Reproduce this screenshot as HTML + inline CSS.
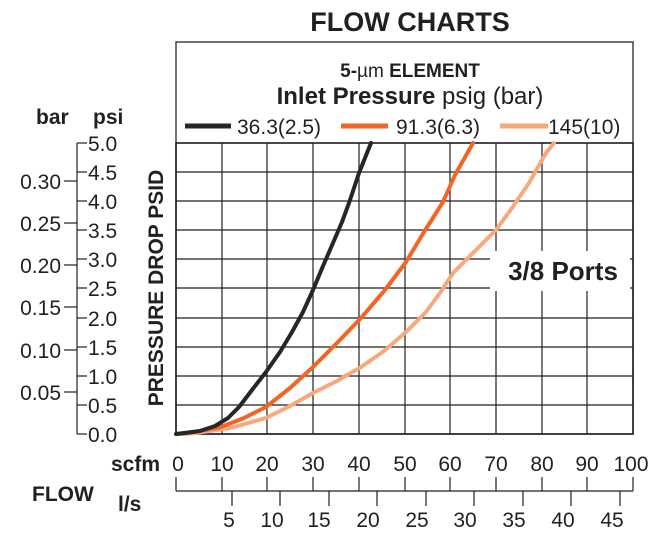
<!DOCTYPE html>
<html><head><meta charset="utf-8"><style>
html,body{margin:0;padding:0;background:#fff;}
svg{display:block;font-family:"Liberation Sans",Arial,sans-serif;}
</style></head><body>
<svg width="664" height="536" viewBox="0 0 664 536" xmlns="http://www.w3.org/2000/svg">
<rect width="664" height="536" fill="#fff"/>
<text x="410" y="31" font-size="27" font-weight="bold" text-anchor="middle" fill="#231f20">FLOW CHARTS</text>
<rect x="176" y="42" width="457" height="392" fill="none" stroke="#444" stroke-width="1.5"/>
<text x="410" y="77" font-size="19" text-anchor="middle" fill="#231f20"><tspan font-weight="bold">5-</tspan>µm <tspan font-weight="bold">ELEMENT</tspan></text>
<text x="410" y="104" font-size="24" text-anchor="middle" fill="#231f20"><tspan font-weight="bold">Inlet Pressure</tspan> psig (bar)</text>
<line x1="185" y1="126" x2="231" y2="126" stroke="#25262c" stroke-width="5"/>
<text x="237" y="134" font-size="21" fill="#231f20">36.3(2.5)</text>
<line x1="341" y1="126" x2="388" y2="126" stroke="#f26524" stroke-width="5"/>
<text x="396" y="134" font-size="21" fill="#231f20">91.3(6.3)</text>
<line x1="500" y1="126" x2="548" y2="126" stroke="#f7a97b" stroke-width="5"/>
<text x="548" y="134" font-size="21" fill="#231f20">145(10)</text>
<g stroke="#231f20" stroke-width="1.2">
<line x1="176" y1="143" x2="633" y2="143"/>
<line x1="176" y1="172" x2="633" y2="172"/>
<line x1="176" y1="201" x2="633" y2="201"/>
<line x1="176" y1="230" x2="633" y2="230"/>
<line x1="176" y1="259" x2="633" y2="259"/>
<line x1="176" y1="288" x2="633" y2="288"/>
<line x1="176" y1="318" x2="633" y2="318"/>
<line x1="176" y1="347" x2="633" y2="347"/>
<line x1="176" y1="376" x2="633" y2="376"/>
<line x1="176" y1="405" x2="633" y2="405"/>
<line x1="222" y1="143" x2="222" y2="434"/>
<line x1="267" y1="143" x2="267" y2="434"/>
<line x1="313" y1="143" x2="313" y2="434"/>
<line x1="359" y1="143" x2="359" y2="434"/>
<line x1="405" y1="143" x2="405" y2="434"/>
<line x1="450" y1="143" x2="450" y2="434"/>
<line x1="496" y1="143" x2="496" y2="434"/>
<line x1="542" y1="143" x2="542" y2="434"/>
<line x1="587" y1="143" x2="587" y2="434"/>
</g>
<rect x="176" y="143" width="457" height="291" fill="none" stroke="#231f20" stroke-width="1.5"/>
<g fill="none" stroke-width="4" stroke-linecap="round" stroke-linejoin="round">
<polyline points="180,434 196,433 230,428 266,418 290,406 313,393 337,381 361,367 384,351 406,332 426,312 440,293 453,273 474,252 496,230 512,208 529,183 546,153 554,143" stroke="#f7a97b"/>
<polyline points="178,434 189,433 221,427 244,418 266,407 290,388 313,367 337,343 361,318 385,290 406,262 424,232 443,202 455,175 473,143" stroke="#f26524"/>
<polyline points="176,434 200,431 215,426 228,418 239,407 252,390 266,372 280,352 292,332 303,312 313,290 323,266 333,243 342,222 349,203 354,188 359,173 371,143" stroke="#25262c"/>
</g>
<rect x="490" y="251" width="140" height="40" fill="#fff"/>
<text x="563" y="280" font-size="26" font-weight="bold" text-anchor="middle" fill="#231f20">3/8 Ports</text>
<text transform="translate(163,288) rotate(-90)" font-size="21" font-weight="bold" text-anchor="middle" fill="#231f20">PRESSURE DROP PSID</text>
<text x="36" y="124" font-size="21" font-weight="bold" fill="#231f20">bar</text>
<text x="93" y="124" font-size="21" font-weight="bold" fill="#231f20">psi</text>
<g stroke="#231f20" stroke-width="1.2">
<line x1="77" y1="143" x2="77" y2="434"/>
<line x1="77" y1="143" x2="87" y2="143"/><line x1="77" y1="172" x2="87" y2="172"/>
<line x1="77" y1="201" x2="87" y2="201"/><line x1="77" y1="230" x2="87" y2="230"/>
<line x1="77" y1="259" x2="87" y2="259"/><line x1="77" y1="288" x2="87" y2="288"/>
<line x1="77" y1="318" x2="87" y2="318"/><line x1="77" y1="347" x2="87" y2="347"/>
<line x1="77" y1="376" x2="87" y2="376"/><line x1="77" y1="405" x2="87" y2="405"/>
<line x1="77" y1="434" x2="87" y2="434"/>
<line x1="64" y1="181" x2="77" y2="181"/><line x1="64" y1="223" x2="77" y2="223"/>
<line x1="64" y1="265" x2="77" y2="265"/><line x1="64" y1="307" x2="77" y2="307"/>
<line x1="64" y1="350" x2="77" y2="350"/><line x1="64" y1="392" x2="77" y2="392"/>
</g>
<g font-size="21" fill="#231f20">
<text x="88" y="151">5.0</text><text x="88" y="180">4.5</text><text x="88" y="209">4.0</text>
<text x="88" y="238">3.5</text><text x="88" y="267">3.0</text><text x="88" y="296">2.5</text>
<text x="88" y="326">2.0</text><text x="88" y="355">1.5</text><text x="88" y="384">1.0</text>
<text x="88" y="413">0.5</text><text x="88" y="442">0.0</text>
</g>
<g font-size="21" fill="#231f20" text-anchor="end">
<text x="61" y="189">0.30</text><text x="61" y="231">0.25</text><text x="61" y="273">0.20</text>
<text x="61" y="315">0.15</text><text x="61" y="358">0.10</text><text x="61" y="400">0.05</text>
</g>
<text x="160" y="471" font-size="21" font-weight="bold" text-anchor="end" fill="#231f20">scfm</text>
<g font-size="21" fill="#231f20" text-anchor="middle">
<text x="178" y="471">0</text><text x="222" y="471">10</text><text x="267" y="471">20</text>
<text x="313" y="471">30</text><text x="359" y="471">40</text><text x="405" y="471">50</text>
<text x="450" y="471">60</text><text x="496" y="471">70</text><text x="542" y="471">80</text>
<text x="587" y="471">90</text><text x="631" y="471">100</text>
</g>
<g stroke="#231f20" stroke-width="1.2">
<line x1="176" y1="491" x2="633" y2="491"/>
<line x1="176" y1="477" x2="176" y2="491"/><line x1="222" y1="477" x2="222" y2="491"/>
<line x1="267" y1="477" x2="267" y2="491"/><line x1="313" y1="477" x2="313" y2="491"/>
<line x1="359" y1="477" x2="359" y2="491"/><line x1="405" y1="477" x2="405" y2="491"/>
<line x1="450" y1="477" x2="450" y2="491"/><line x1="496" y1="477" x2="496" y2="491"/>
<line x1="542" y1="477" x2="542" y2="491"/><line x1="587" y1="477" x2="587" y2="491"/>
<line x1="633" y1="477" x2="633" y2="491"/>
<line x1="232" y1="491" x2="232" y2="506"/><line x1="280" y1="491" x2="280" y2="506"/>
<line x1="329" y1="491" x2="329" y2="506"/><line x1="377" y1="491" x2="377" y2="506"/>
<line x1="426" y1="491" x2="426" y2="506"/><line x1="474" y1="491" x2="474" y2="506"/>
<line x1="523" y1="491" x2="523" y2="506"/><line x1="571" y1="491" x2="571" y2="506"/>
<line x1="620" y1="491" x2="620" y2="506"/>
</g>
<text x="32" y="501" font-size="21" font-weight="bold" fill="#231f20">FLOW</text>
<text x="118" y="511" font-size="21" font-weight="bold" fill="#231f20">l/s</text>
<g font-size="21" fill="#231f20" text-anchor="middle">
<text x="229" y="527">5</text><text x="272" y="527">10</text><text x="319" y="527">15</text>
<text x="368" y="527">20</text><text x="417" y="527">25</text><text x="465" y="527">30</text>
<text x="514" y="527">35</text><text x="563" y="527">40</text><text x="612" y="527">45</text>
</g>
</svg>
</body></html>
